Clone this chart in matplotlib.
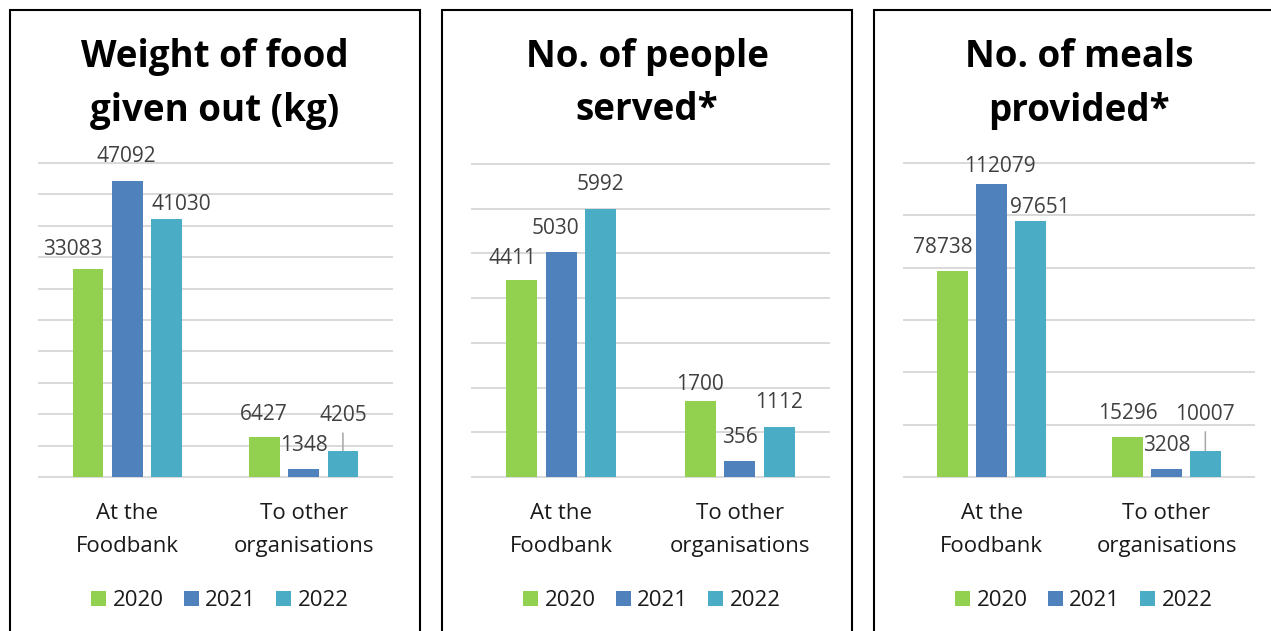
import matplotlib
matplotlib.use("Agg")
import matplotlib.pyplot as plt
from matplotlib.patches import Rectangle, Patch

# ---------------- data ----------------
categories = ["At the\nFoodbank", "To other\norganisations"]
years = ["2020", "2021", "2022"]
titles = ["Weight of food\ngiven out (kg)", "No. of people\nserved*", "No. of meals\nprovided*"]

weight_2020 = [33083, 6427]
weight_2021 = [47092, 1348]
weight_2022 = [41030, 4205]

people_2020 = [4411, 1700]
people_2021 = [5030, 356]
people_2022 = [5992, 1112]

meals_2020 = [78738, 15296]
meals_2021 = [112079, 3208]
meals_2022 = [97651, 10007]

axis_max = [50000, 7000, 120000]
axis_step = [5000, 1000, 20000]

# ---------------- style / layout ----------------
W, H = 1271, 631
colors = ["#92D050", "#4F81BD", "#4BACC6"]
grid_color = "#D9D9D9"
label_color = "#404040"
text_color = "#1A1A1A"
FONT = "Open Sans"
plt.rcParams["font.family"] = [FONT, "DejaVu Sans"]

panels_x = [10, 442, 874]
panel_w = 410
axes_px = [(39, 392, 163, 477), (472, 829, 164, 477), (904, 1254, 163, 477)]

# label offsets (dx, dy of ink centre above bar top), pixels
label_offsets = [
    [[(-15, 22), (-1, 25)], [(-1, 27), (0, 25.5)], [(15, 17), (0, 37.5)]],
    [[(-9, 23.5), (0, 19)], [(-6, 25.7), (0, 26.4)], [(0, 27), (0, 26.8)]],
    [[(-9.6, 26), (0, 25.7)], [(8, 20), (0, 25.7)], [(10, 16), (0, 39)]],
]
leader = [[[False, False], [False, False], [False, True]],
          [[False, False], [False, False], [False, False]],
          [[False, False], [False, False], [False, True]]]

datasets = [
    [weight_2020, weight_2021, weight_2022],
    [people_2020, people_2021, people_2022],
    [meals_2020, meals_2021, meals_2022],
]

fig = plt.figure(figsize=(W / 100, H / 100), dpi=100)


def frac_box(x0, x1, y0, y1):
    return [x0 / W, 1 - y1 / H, (x1 - x0) / W, (y1 - y0) / H]


bar_w = 0.174
bar_sp = 0.222
xs = list(range(len(categories)))

for p in range(3):
    # panel border
    px0 = panels_x[p]
    fig.add_artist(Rectangle((px0 / W, 1 - 645 / H), panel_w / W, (645 - 10) / H,
                             transform=fig.transFigure, fill=False,
                             ec="black", lw=1.5))
    cx = (px0 + panel_w / 2) / W
    fig.text(cx, 1 - 120.5 / H, titles[p], ha="center", va="baseline",
             fontsize=26.5, fontweight="bold", color="black",
             linespacing=1.55, multialignment="center")

    ax = fig.add_axes(frac_box(*axes_px[p]))
    for s in range(3):
        vals = datasets[p][s]
        pos = [x + (s - 1) * bar_sp for x in xs]
        ax.bar(pos, vals, width=bar_w, color=colors[s], zorder=3,
               label=years[s])
        for i, v in enumerate(vals):
            dx, dy = label_offsets[p][s][i]
            kw = {}
            if leader[p][s][i]:
                kw["arrowprops"] = dict(arrowstyle="-", color="#A6A6A6",
                                        lw=1.1, shrinkA=3, shrinkB=0,
                                        relpos=(0.5, 0))
            ax.annotate(f"{v}", xy=(pos[i], v), xytext=(dx, dy - 8),
                        textcoords="offset pixels", ha="center",
                        va="baseline", fontsize=15, color=label_color,
                        zorder=4, annotation_clip=False, **kw)
    ax.set_xlim(-0.5, len(categories) - 0.5)
    ax.set_ylim(0, axis_max[p])
    ax.set_yticks(range(0, axis_max[p] + 1, axis_step[p]))
    ax.set_yticklabels([])
    ax.tick_params(axis="y", length=0)
    ax.set_xticks(xs)
    ax.set_xticklabels(categories, fontsize=16, color=text_color,
                       linespacing=1.75)
    ax.tick_params(axis="x", length=0, pad=18.5)
    for sp in ax.spines.values():
        sp.set_visible(False)
    ax.yaxis.grid(True, color=grid_color, lw=1.4, zorder=0)
    ax.set_axisbelow(True)
    for gl in ax.get_ygridlines():
        gl.set_clip_on(False)
    ax.set_facecolor("none")

    handles = [Patch(facecolor=c) for c in colors]
    ax.legend(handles, years, loc="center",
              bbox_to_anchor=(cx + 5 / W, 1 - 601 / H),
              bbox_transform=fig.transFigure, ncol=3, frameon=False,
              fontsize=16, handlelength=0.67, handleheight=0.67,
              handletextpad=0.3, columnspacing=0.9, labelcolor=text_color)

fig.savefig("out.png", dpi=100)
